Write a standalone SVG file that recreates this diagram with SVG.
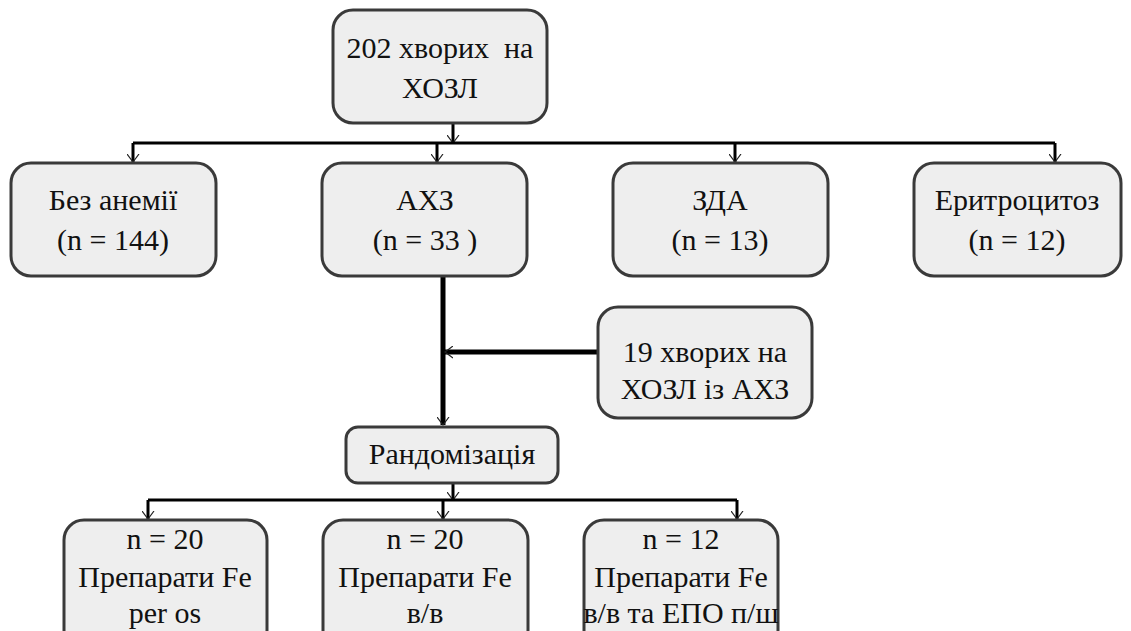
<svg xmlns="http://www.w3.org/2000/svg" width="1131" height="631" viewBox="0 0 1131 631">
<style>
.box{fill:#eeeeee;stroke:#3a3a3a;stroke-width:3}
.t{font-family:'Liberation Serif','Times New Roman',Times,Tinos,'Noto Serif','DejaVu Serif',FreeSerif,'Nimbus Roman',Georgia,serif;font-size:30px;fill:#111;text-anchor:middle}
.c{stroke:#000;stroke-width:3;fill:none}
.ck{stroke:#000;stroke-width:5;fill:none}
</style>
<defs>
<marker id="ah" markerUnits="userSpaceOnUse" markerWidth="16" markerHeight="16" viewBox="-8 -10 16 16" refX="0" refY="0" orient="auto-start-reverse">
<path d="M-6,-8 L0,0 L6,-8" transform="rotate(-90)" fill="none" stroke="#222" stroke-width="1.2"/>
</marker>
</defs>
<rect width="1131" height="631" fill="#fff"/>
<g id="connectors">
<line class="c" x1="453" y1="123" x2="453" y2="143" marker-end="url(#ah)"/>
<line class="c" x1="133" y1="143" x2="1055" y2="143"/>
<path class="c" d="M133,143 V162" marker-end="url(#ah)"/>
<path class="c" d="M437,143 V162" marker-end="url(#ah)"/>
<path class="c" d="M735,143 V162" marker-end="url(#ah)"/>
<path class="c" d="M1055,143 V162" marker-end="url(#ah)"/>
<path class="ck" d="M443,277 V425" marker-end="url(#ah)"/>
<path class="ck" d="M598,352 H445" marker-end="url(#ah)"/>
<path class="c" d="M453,483 V500" marker-end="url(#ah)"/>
<line class="c" x1="148" y1="500" x2="737" y2="500"/>
<path class="c" d="M148,500 V519" marker-end="url(#ah)"/>
<path class="c" d="M443,500 V519" marker-end="url(#ah)"/>
<path class="c" d="M737,500 V519" marker-end="url(#ah)"/>
</g>
<g id="n-top"><rect class="box" x="333" y="10" width="214" height="113" rx="20"/>
<text class="t" x="440" y="58" xml:space="preserve">202 хворих  на</text><text class="t" x="440" y="98">ХОЗЛ</text></g>
<g id="n-bez"><rect class="box" x="11" y="163" width="205" height="113" rx="20"/>
<text class="t" x="113" y="210">Без анемії</text><text class="t" x="113" y="250">(n = 144)</text></g>
<g id="n-ahz"><rect class="box" x="322" y="163" width="205" height="113" rx="20"/>
<text class="t" x="425" y="210">АХЗ</text><text class="t" x="425" y="250" xml:space="preserve">(n = 33 )</text></g>
<g id="n-zda"><rect class="box" x="613" y="163" width="215" height="113" rx="20"/>
<text class="t" x="720" y="210">ЗДА</text><text class="t" x="720" y="250">(n = 13)</text></g>
<g id="n-er"><rect class="box" x="914" y="163" width="207" height="113" rx="20"/>
<text class="t" x="1017" y="210">Еритроцитоз</text><text class="t" x="1017" y="250">(n = 12)</text></g>
<g id="n-19"><rect class="box" x="598" y="307" width="214" height="111" rx="20"/>
<text class="t" x="705" y="362">19 хворих на</text><text class="t" x="705" y="399">ХОЗЛ із АХЗ</text></g>
<g id="n-rand"><rect class="box" x="346" y="427" width="212" height="56" rx="12"/>
<text class="t" x="452" y="464">Рандомізація</text></g>
<g id="n-b1"><rect class="box" x="64" y="520" width="203" height="130" rx="20"/>
<text class="t" x="165" y="549">n = 20</text><text class="t" x="165" y="587">Препарати Fe</text><text class="t" x="165" y="623">per os</text></g>
<g id="n-b2"><rect class="box" x="323" y="520" width="205" height="130" rx="20"/>
<text class="t" x="425" y="549">n = 20</text><text class="t" x="425" y="587">Препарати Fe</text><text class="t" x="425" y="623">в/в</text></g>
<g id="n-b3"><rect class="box" x="584" y="520" width="194" height="130" rx="20"/>
<text class="t" x="681" y="549">n = 12</text><text class="t" x="681" y="587">Препарати Fe</text><text class="t" x="681" y="623">в/в та ЕПО п/ш</text></g>
</svg>
